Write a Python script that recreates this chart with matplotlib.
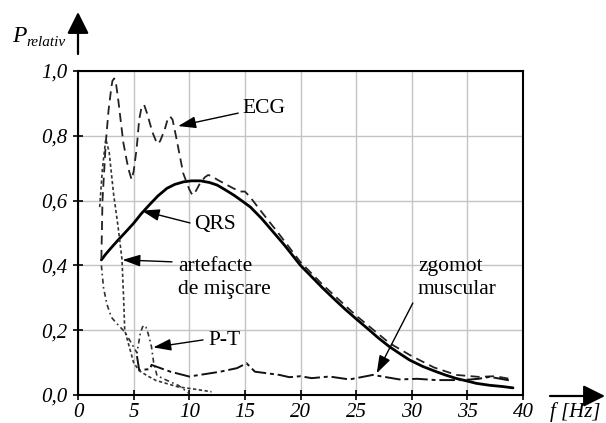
import numpy as np
import matplotlib.pyplot as plt

plt.rcParams['font.family'] = ['Liberation Serif', 'DejaVu Serif']

# spectral components, f in Hz and relative power
qrs_f = [2.1, 2.5, 3.0, 3.6, 4.2, 5.0, 5.7, 6.5, 7.2, 8.0, 8.7, 9.5, 10.2, 11.0,
         11.8, 12.5, 13.2, 14.0, 14.7, 15.5, 16.5, 17.5, 18.5, 20.0, 21.0, 22.0,
         23.0, 24.0, 25.0, 26.2, 27.0, 28.0, 29.0, 29.8, 31.0, 32.2, 33.0, 34.0,
         35.0, 35.8, 37.0, 38.2, 39.1]
qrs_p = [0.417, 0.435, 0.455, 0.478, 0.50, 0.53, 0.56, 0.59, 0.615, 0.638, 0.65,
         0.658, 0.661, 0.661, 0.656, 0.648, 0.634, 0.617, 0.60, 0.58, 0.545, 0.505,
         0.465, 0.40, 0.365, 0.33, 0.297, 0.265, 0.235, 0.20, 0.176, 0.149, 0.126,
         0.108, 0.088, 0.072, 0.062, 0.051, 0.043, 0.036, 0.030, 0.026, 0.022]

ecg_f = [2.1, 2.2, 2.5, 2.75, 3.0, 3.1, 3.26, 3.4, 3.6, 4.07, 4.4, 4.6, 4.82, 5.0,
         5.27, 5.5, 5.72, 5.95, 6.2, 6.7, 7.0, 7.2, 7.4, 7.8, 8.05, 8.27, 8.5, 8.8,
         9.46, 10.0, 10.2, 10.36, 10.6, 10.96, 11.4, 11.7, 12.0, 12.5, 13.2, 13.95,
         14.6, 15.0, 15.45, 16.5, 18.0, 20.0, 22.0, 25.0, 28.0, 30.0, 32.0, 34.0,
         36.0, 37.5, 38.8]
ecg_p = [0.42, 0.60, 0.78, 0.88, 0.95, 0.97, 0.977, 0.965, 0.916, 0.78, 0.72, 0.69,
         0.665, 0.69, 0.76, 0.85, 0.89, 0.895, 0.87, 0.81, 0.785, 0.775, 0.785, 0.82,
         0.85, 0.86, 0.85, 0.80, 0.684, 0.635, 0.622, 0.617, 0.63, 0.653, 0.672,
         0.679, 0.676, 0.665, 0.652, 0.638, 0.628, 0.628, 0.612, 0.565, 0.50, 0.41,
         0.34, 0.245, 0.16, 0.12, 0.085, 0.062, 0.056, 0.058, 0.05]

art_f = [1.95, 2.2, 2.5, 2.8, 3.2, 3.6, 3.95, 4.1, 4.2, 4.6, 5.0, 5.5, 6.2, 7.0,
         8.0, 9.0, 10.5, 12.0]
art_p = [0.58, 0.70, 0.79, 0.75, 0.62, 0.52, 0.42, 0.30, 0.20, 0.15, 0.10, 0.075,
         0.06, 0.045, 0.035, 0.025, 0.018, 0.01]

pt_f = [2.1, 2.3, 2.6, 3.0, 3.5, 4.2, 4.8, 5.3, 5.6, 5.8, 5.95, 6.1, 6.3, 6.6,
        6.8, 7.1, 8.0, 9.0, 10.0]
pt_p = [0.40, 0.33, 0.28, 0.24, 0.22, 0.195, 0.16, 0.13, 0.19, 0.21, 0.215, 0.21,
        0.19, 0.15, 0.10, 0.06, 0.045, 0.03, 0.005]

emg_f = [5.3, 5.5, 6.5, 6.6, 8.3, 10.0, 11.5, 12.8, 14.3, 15.15, 15.9, 17.0, 18.1,
         19.0, 20.0, 21.0, 22.6, 24.4, 26.5, 28.9, 30.5, 32.2, 34.6, 36.0, 37.0,
         38.8]
emg_p = [0.12, 0.077, 0.08, 0.093, 0.072, 0.057, 0.065, 0.072, 0.083, 0.098, 0.072,
         0.067, 0.062, 0.055, 0.058, 0.052, 0.057, 0.048, 0.062, 0.048, 0.05, 0.046,
         0.046, 0.05, 0.056, 0.045]

x_ticks = np.arange(0, 41, 5)
y_ticks = np.arange(0, 1.01, 0.2)
y_labels = ['0,0', '0,2', '0,4', '0,6', '0,8', '1,0']

W, H = 606, 423
fig = plt.figure(figsize=(W / 100, H / 100), dpi=100)
ax = fig.add_axes([78 / W, 28 / H, 445 / W, 324 / H])

ax.plot(qrs_f, qrs_p, color='k', lw=2.0, solid_capstyle='round', solid_joinstyle='round')
ax.plot(ecg_f, ecg_p, color='#222222', lw=1.3, ls=(0, (5, 3)))
ax.plot(art_f, art_p, color='#333333', lw=1.2, ls=(0, (2, 1.5)))
ax.plot(pt_f, pt_p, color='#333333', lw=1.2, ls=(0, (3, 2, 1, 2)))
ax.plot(emg_f, emg_p, color='#111111', lw=1.4, ls=(0, (8, 2, 2, 2)))

ax.set_xlim(0, 40)
ax.set_ylim(0, 1.0)
ax.set_xticks(x_ticks)
ax.set_xticklabels([str(v) for v in x_ticks], fontstyle='italic', fontsize=15)
ax.set_yticks(y_ticks)
ax.set_yticklabels(y_labels, fontstyle='italic', fontsize=15)
ax.tick_params(direction='inout', length=7, width=1.2, pad=4)
ax.tick_params(axis='x', pad=2)
ax.grid(True, color='#c4c4c4', lw=1.0)
ax.set_axisbelow(True)
for sp in ax.spines.values():
    sp.set_linewidth(1.5)

# labelled arrows pointing at each component
arrow = dict(arrowstyle='-|>,head_length=0.9,head_width=0.3', color='k', lw=1.0,
             mutation_scale=12, shrinkA=0, shrinkB=0)
txt = dict(fontsize=15.5, ha='left', va='center')

ax.text(14.8, 0.883, 'ECG', **txt)
ax.annotate('', xy=(9.0, 0.83), xytext=(14.4, 0.870), arrowprops=arrow)

ax.text(10.4, 0.525, 'QRS', **txt)
ax.annotate('', xy=(5.73, 0.569), xytext=(10.07, 0.531), arrowprops=arrow)

ax.text(9.0, 0.398, 'artefacte', **txt)
ax.text(9.0, 0.327, 'de mişcare', **txt)
ax.annotate('', xy=(4.0, 0.417), xytext=(8.45, 0.411), arrowprops=arrow)

ax.text(11.7, 0.167, 'P-T', **txt)
ax.annotate('', xy=(6.77, 0.147), xytext=(11.24, 0.17), arrowprops=arrow)

ax.text(30.56, 0.398, 'zgomot', **txt)
ax.text(30.56, 0.327, 'muscular', **txt)
ax.annotate('', xy=(26.85, 0.067), xytext=(30.1, 0.284), arrowprops=arrow)

# axis names with arrows outside the frame
big = dict(arrowstyle='-|>,head_length=1.1,head_width=0.55', color='k', lw=1.6,
           mutation_scale=12, shrinkA=0, shrinkB=0)
fig.text(12 / W, 1 - 37 / H, 'P', fontsize=17, fontstyle='italic', ha='left', va='center')
fig.text(26 / W, 1 - 43 / H, 'relativ', fontsize=11, fontstyle='italic', ha='left', va='center')
ax.annotate('', xy=(78 / W, 1 - 12 / H), xytext=(78 / W, 1 - 54 / H),
            xycoords='figure fraction', textcoords='figure fraction', arrowprops=big)
ax.annotate('', xy=(605 / W, 1 - 396 / H), xytext=(550 / W, 1 - 396 / H),
            xycoords='figure fraction', textcoords='figure fraction', arrowprops=big)
fig.text(550 / W, 1 - 412 / H, 'f [Hz]', fontsize=15, fontstyle='italic', ha='left', va='center')

fig.savefig('out.png', dpi=100)
